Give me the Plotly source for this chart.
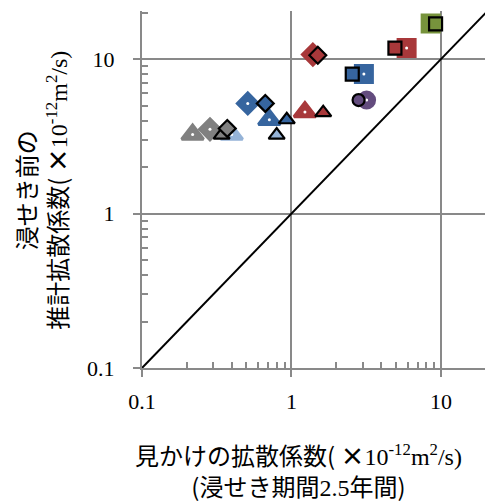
import plotly.graph_objects as go
import numpy as np

# Each series: symbol, colour, then points for the two estimates
series_names = ["gray_tri", "gray_dia", "lblue_tri", "blue_dia", "blue_tri",
                "red_tri", "red_dia", "blue_sq", "purple_circ", "red_sq", "green_sq"]
symbols = ["triangle-up", "diamond", "triangle-up", "diamond", "triangle-up",
           "triangle-up", "diamond", "square", "circle", "square", "square"]
colors = ["#808080", "#808080", "#95b3d7", "#36659f", "#36659f",
          "#a8383a", "#a8383a", "#36659f", "#634c7e", "#a8383a", "#77933c"]

# set A (filled marks with white centre)
a_x = [0.218, 0.285, 0.398, 0.51, 0.711, 1.23, 1.39, 3.05, 3.18, 5.89, 8.53]
a_y = [3.25, 3.51, 3.25, 5.17, 4.05, 4.55, 10.7, 8.0, 5.43, 11.8, 17.0]
# set B (black-outlined marks)
b_x = [0.341, 0.372, 0.796, 0.668, 0.93, 1.63, 1.50, 2.55, 2.81, 4.92, 9.2]
b_y = [3.22, 3.56, 3.22, 5.17, 4.05, 4.5, 10.6, 8.0, 5.43, 11.8, 16.9]

# y = x reference line
diag = [0.1, 20]

fig = go.Figure()

fig.add_trace(go.Scatter(x=diag, y=diag, mode="lines",
                         line=dict(color="black", width=2), hoverinfo="skip"))

big = {"triangle-up": 19, "diamond": 16, "square": 17, "circle": 16}
big_lw = {"triangle-up": 3, "diamond": 3, "square": 3, "circle": 3}
for i in range(len(series_names)):
    s = symbols[i]
    fig.add_trace(go.Scatter(
        x=[a_x[i]], y=[a_y[i]], mode="markers",
        marker=dict(symbol=s, size=big[s], color=colors[i],
                    line=dict(color=colors[i], width=big_lw[s]))))
    fig.add_trace(go.Scatter(
        x=[a_x[i]], y=[a_y[i]], mode="markers",
        marker=dict(symbol="circle", size=3, color="white", line=dict(width=0))))

small = {"triangle-up": 14, "diamond": 13, "square": 13, "circle": 12}
for i in range(len(series_names)):
    s = symbols[i]
    fig.add_trace(go.Scatter(
        x=[b_x[i]], y=[b_y[i]], mode="markers",
        marker=dict(symbol=s, size=small[s], color=colors[i],
                    line=dict(color="black", width=2.2))))

tick_vals = [0.1, 1, 10]
tick_text = ["0.1", "1", "10"]
minor_vals = [m * d for d in (0.1, 1, 10) for m in range(2, 10)]

axis_common = dict(
    type="log", tickvals=tick_vals, ticktext=tick_text,
    showline=True, linecolor="#898989", linewidth=2,
    showgrid=True, gridcolor="#898989", gridwidth=2,
    ticks="outside", ticklen=7, tickcolor="#898989", tickwidth=2,
    zeroline=False,
    tickfont=dict(family="Liberation Serif", size=22, color="black"),
    minor=dict(tickvals=minor_vals, ticks="inside", ticklen=6,
               tickcolor="#898989", tickwidth=1.5, showgrid=False),
)

fig.update_layout(
    width=485, height=502,
    margin=dict(l=142, r=0, t=11, b=134),
    paper_bgcolor="white", plot_bgcolor="white",
    showlegend=False,
    xaxis=dict(range=[-1, np.log10(19.7)], ticklabelstandoff=6, **axis_common),
    yaxis=dict(range=[-1, np.log10(20.5)], ticklabelstandoff=14, **axis_common),
)

jp = "Noto Sans CJK JP"
serif = "Liberation Serif"

unit = (f"(<span style='font-family:{jp}'> <b>×</b></span>"
        f"<span style='font-family:{serif}'>10<sup>-12</sup>m<sup>2</sup>/s)</span>")

fig.add_annotation(
    xref="paper", yref="paper", x=0.455, y=-0.285, yanchor="middle",
    showarrow=False, align="center",
    text=(f"<span style='font-family:{jp}'>見かけの拡散係数</span>" + unit
          + f"<br><span style='font-family:{jp}'>(浸せき期間</span>"
          f"<span style='font-family:{serif}'>2.5</span>"
          f"<span style='font-family:{jp}'>年間)</span>"),
    font=dict(family=jp, size=24, color="black"),
)

fig.add_annotation(
    xref="paper", yref="paper", x=-0.295, y=0.499, xanchor="center",
    showarrow=False, textangle=-90, align="center",
    text=(f"<span style='font-family:{jp}'>浸せき前の</span><br>"
          f"<span style='font-family:{jp}'>推計拡散係数</span>" + unit),
    font=dict(family=jp, size=24, color="black"),
)

fig.write_html("out.html")
